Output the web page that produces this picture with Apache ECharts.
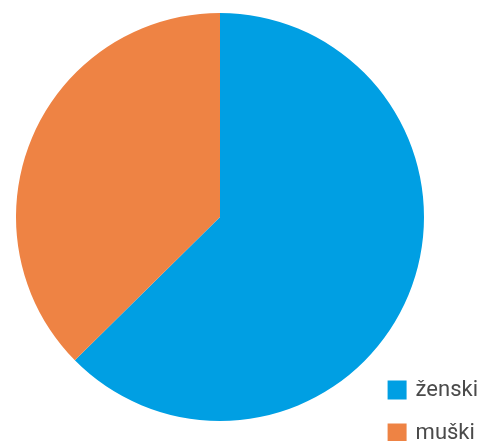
<!DOCTYPE html>
<html>
<head>
<meta charset="utf-8">
<script src="https://cdn.jsdelivr.net/npm/echarts@6/dist/echarts.min.js"></script>
<style>
html,body{margin:0;padding:0;background:#fff;}
#chart{width:483px;height:441px;}
</style>
</head>
<body>
<div id="chart"></div>
<script>
const categories = ['ženski', 'muški']
const values = [62.6, 37.4]
const colors = ['#009FE3', '#EE8344']

const chart = echarts.init(document.getElementById('chart'))

const option = {
  animation: false,
  color: colors,
  legend: {
    orient: 'vertical',
    right: 0,
    bottom: -8,
    itemWidth: 19,
    itemHeight: 19,
    itemGap: 21,
    icon: 'rect',
    textStyle: {fontFamily: 'Roboto', fontSize: 22, lineHeight: 19, color: '#4a4a4a', padding: [0, 0, 0, 4]},
    data: categories
  },
  series: [{
    type: 'pie',
    center: [220, 217],
    radius: 204,
    startAngle: 90,
    clockwise: true,
    label: {show: false},
    labelLine: {show: false},
    itemStyle: {borderWidth: 0},
    data: categories.map((name, i) => ({name, value: values[i]}))
  }]
}

chart.setOption(option)
</script>
</body>
</html>
